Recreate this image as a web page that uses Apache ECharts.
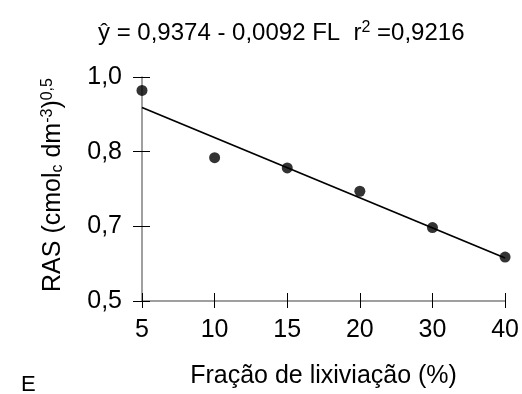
<!DOCTYPE html>
<html>
<head>
<meta charset="utf-8">
<script src="https://cdn.jsdelivr.net/npm/echarts@6/dist/echarts.min.js"></script>
<style>html,body{margin:0;padding:0;background:#fff}#c{width:522px;height:394px}</style>
</head>
<body>
<div id="c"></div>
<script>
var categories = ['5', '10', '15', '20', '30', '40'];
var rasValues = [0.970, 0.820, 0.797, 0.745, 0.664, 0.598];
var fitLine = [0.932, null, null, null, null, 0.596];
var yTickLabels = ['0,5', '0,7', '0,8', '1,0'];
var yMin = 0.5, yMax = 1.0, yStep = 1 / 6;

var FONT = '"Liberation Sans", Arial, sans-serif';
var chart = echarts.init(document.getElementById('c'));

function yLabel(v) {
  var i = Math.round((v - yMin) / yStep);
  return yTickLabels[i] !== undefined ? yTickLabels[i] : '';
}

var baseY = {
  type: 'value', min: yMin, max: yMax, interval: yStep,
  splitLine: { show: false }
};
var baseX = {
  type: 'category', data: categories, boundaryGap: false,
  splitLine: { show: false }
};

chart.setOption({
  animation: false,
  backgroundColor: '#fff',
  title: {
    text: 'ŷ = 0,9374 - 0,0092 FL  r{sup|2} =0,9216',
    left: 93, top: 15,
    textStyle: {
      fontFamily: FONT, fontSize: 24, fontWeight: 'normal', color: '#000',
      rich: { sup: { fontFamily: FONT, fontSize: 16, verticalAlign: 'top', padding: [0, 0, 10, 0], color: '#000' } }
    }
  },
  graphic: [{
    type: 'text', left: 21, top: 374,
    style: { text: 'E', font: '22px ' + FONT, fill: '#000' }
  }],
  grid: { left: 142, right: 16, top: 77, bottom: 91, containLabel: false },
  xAxis: [
    Object.assign({}, baseX, {
      axisLine: { show: true, lineStyle: { color: '#808080', width: 1.5 } },
      axisTick: { show: true, inside: false, length: 7, alignWithLabel: true, lineStyle: { color: '#000', width: 1 } },
      axisLabel: { fontFamily: FONT, fontSize: 25, color: '#000', margin: 17 },
      name: 'Fração de lixiviação (%)', nameLocation: 'middle', nameGap: 63,
      nameTextStyle: { fontFamily: FONT, fontSize: 25, color: '#000' }
    }),
    Object.assign({}, baseX, {
      position: 'bottom',
      axisLine: { show: false },
      axisTick: { show: true, inside: true, length: 8, lineStyle: { color: '#000', width: 1 } },
      axisLabel: { show: false }
    })
  ],
  yAxis: [
    Object.assign({}, baseY, {
      axisLine: { show: true, lineStyle: { color: '#808080', width: 1.5 } },
      axisTick: { show: true, inside: false, length: 9, lineStyle: { color: '#000', width: 1 } },
      axisLabel: { fontFamily: FONT, fontSize: 25, color: '#000', margin: 20, formatter: yLabel },
      name: 'RAS (cmol{sub|c} dm{sup|-3}){sup|0,5}', nameLocation: 'middle', nameGap: 76, nameRotate: 90,
      nameTextStyle: {
        fontFamily: FONT, fontSize: 25, color: '#000', padding: [0, 0, 0, 8],
        rich: {
          sub: { fontFamily: FONT, fontSize: 16, verticalAlign: 'bottom', padding: [8, 0, 0, 0], color: '#000' },
          sup: { fontFamily: FONT, fontSize: 16, verticalAlign: 'top', padding: [0, 0, 10, 0], color: '#000' }
        }
      }
    }),
    Object.assign({}, baseY, {
      position: 'left',
      axisLine: { show: false },
      axisTick: { show: true, inside: true, length: 8, lineStyle: { color: '#000', width: 1 } },
      axisLabel: { show: false }
    })
  ],
  series: [
    {
      type: 'line', data: fitLine, connectNulls: true, showSymbol: false, symbol: 'none',
      lineStyle: { color: '#000', width: 1.8 }, z: 2
    },
    {
      type: 'scatter', data: rasValues, symbol: 'circle', symbolSize: 11,
      itemStyle: { color: '#000' }, z: 3
    }
  ]
});
</script>
</body>
</html>
